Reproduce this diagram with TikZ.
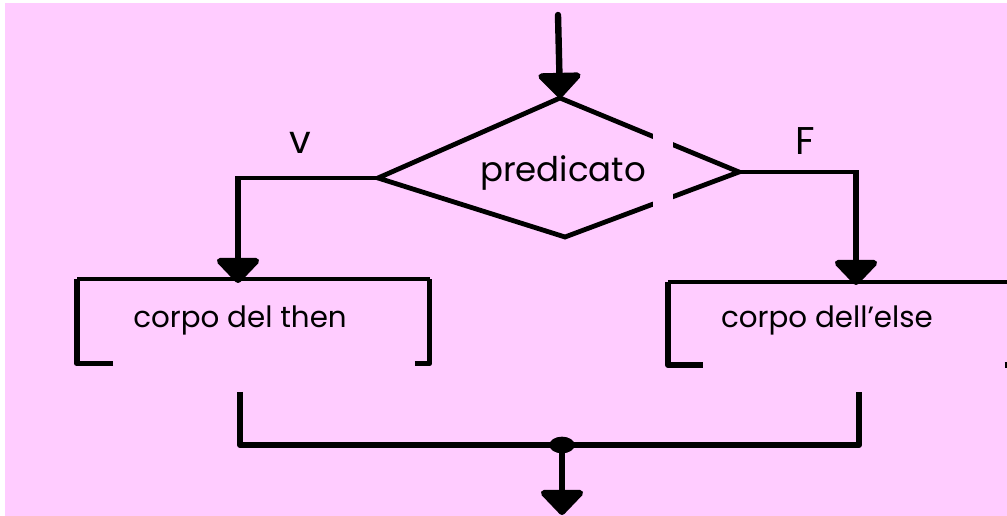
\documentclass[tikz,border=0pt]{standalone}
\usepackage{fontspec}
\setmainfont{Poppins}
\usetikzlibrary{arrows.meta,shapes.geometric}
\definecolor{bgpink}{RGB}{255,204,255}
\tikzset{
  shaft/.style={line width=4.8pt, line cap=round},
  bigtip/.style={-{Triangle[length=20pt,width=37pt,round]}},
  bracket/.style={line width=4.3pt, line join=round},
  boxtop/.style={line width=3.2pt},
  label/.style={font=\fontsize{22}{26}\selectfont, inner sep=0pt},
  branch/.style={font=\fontsize{29}{32}\selectfont, inner sep=0pt},
  bodybox/.style={minimum width=0pt, inner sep=0pt},
}
\begin{document}
\begin{tikzpicture}[x=0.75pt, y=-0.75pt]
  % page frame: white margin, pink canvas
  \useasboundingbox (0,0) rectangle (1007,516);
  \fill[white] (0,0) rectangle (1007,516);
  \clip (0,0) rectangle (1007,516);
  \fill[bgpink] (5,3) rectangle (1007,516);

  % decision diamond
  \coordinate (dtop)   at (560,98);
  \coordinate (dleft)  at (378,178);
  \coordinate (dright) at (739,172);
  \coordinate (dbot)   at (565,237);
  \draw[line width=3.6pt, line join=miter] (dtop) -- (dright) -- (dbot) -- (dleft) -- cycle;
  % text panel that cuts the right-hand edges
  \fill[bgpink] (653,132) rectangle (673,208);
  \node[label, font=\fontsize{25.5}{28}\selectfont] (pred) at (563,173) {predicato};

  % entry arrow
  \coordinate (start) at (558,15);
  \draw[shaft, bigtip] (start) -- (dtop);

  % true / false branches
  \coordinate (lcorner) at (238,178);
  \coordinate (rcorner) at (856,172);
  \coordinate (thenin) at (238,283);
  \coordinate (elsein) at (856,285);
  \draw[line width=3pt] (dleft) -- (lcorner);
  \draw[line width=3pt] (dright) -- (rcorner);
  \draw[shaft, line cap=butt, bigtip] ([yshift=1.2pt]lcorner) -- (thenin);
  \draw[shaft, line cap=butt, bigtip] ([yshift=1.2pt]rcorner) -- (elsein);
  \node[branch] (vlab) at (300,143) {v};
  \node[branch] (flab) at (805,141) {F};

  % body of the then branch
  \node[bodybox, minimum width=264pt, minimum height=63pt, anchor=north west] (thenbox) at (77,279) {};
  \node[label] (thentxt) at (240,320) {corpo del then};
  \draw[boxtop] (thenbox.north west) -- (thenbox.north east);
  \draw[bracket] ([xshift=27pt]thenbox.south west) -- (thenbox.south west) -- (thenbox.north west);
  \draw[bracket] ([xshift=-11pt]thenbox.south east) -- (thenbox.south east) -- (thenbox.north east);

  % body of the else branch
  \node[bodybox, minimum width=263pt, minimum height=62pt, anchor=north west] (elsebox) at (668,282) {};
  \node[label] (elsetxt) at (827,320) {corpo dell’else};
  \draw[boxtop] (elsebox.north west) -- (elsebox.north east);
  \draw[bracket] ([xshift=26pt]elsebox.south west) -- (elsebox.south west) -- (elsebox.north west);
  \draw[bracket] ([xshift=-11pt]elsebox.south east) -- (elsebox.south east) -- (elsebox.north east);

  % merge of the two branches
  \coordinate (lout) at (240,392);
  \coordinate (rout) at (859,392);
  \coordinate (end) at (562,515);
  \node[ellipse, fill=black, minimum width=19pt, minimum height=12.5pt, inner sep=0pt] (join) at (562,445) {};
  \draw[line width=4.6pt, line join=round] (lout) |- (join.center) -| (rout);
  \draw[shaft, line cap=butt, bigtip] (join.center) -- (end);
\end{tikzpicture}
\end{document}
